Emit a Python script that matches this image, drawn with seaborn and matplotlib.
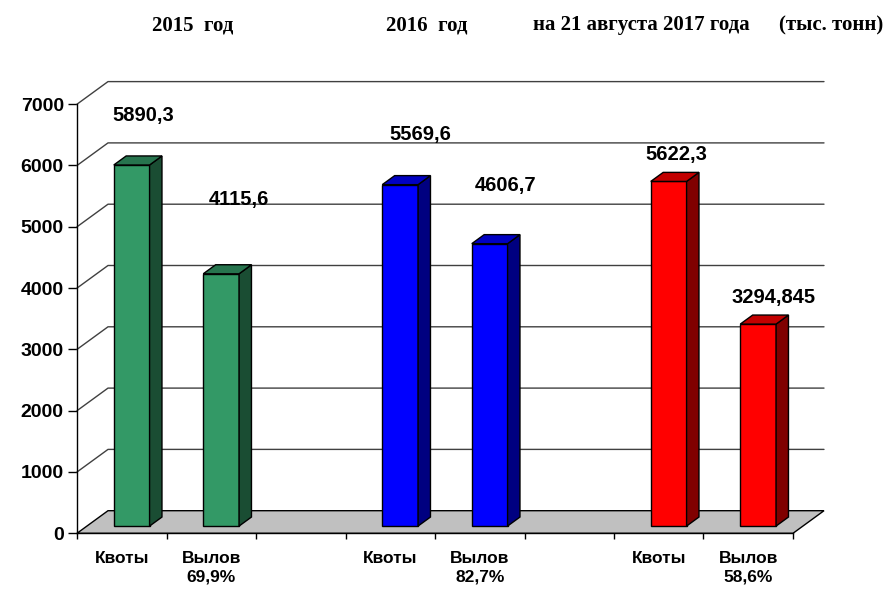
import matplotlib
matplotlib.use('Agg')
import matplotlib.pyplot as plt
import matplotlib.colors as mcolors
from matplotlib.patches import Polygon, Rectangle
import pandas as pd
import seaborn as sns

# Data (thousand tonnes)
years = ['2015', '2016', '2017']
quota = [5890.3, 5569.6, 5622.3]
catch = [4115.6, 4606.7, 3294.845]
catch_share = ['69,9%', '82,7%', '58,6%']
year_colors = ['#339966', '#0000FF', '#FF0000']
headers = ['2015  год', '2016  год', 'на 21 августа 2017 года', '(тыс. тонн)']
y_ticks = [0, 1000, 2000, 3000, 4000, 5000, 6000, 7000]

# Build the slots: Квоты, Вылов, empty gap, ...
rows, order, tick_labels, value_text = [], [], [], []
for i, yr in enumerate(years):
    rows.append({'slot': f'Квоты {yr}', 'value': quota[i], 'year': yr})
    rows.append({'slot': f'Вылов {yr}', 'value': catch[i], 'year': yr})
    order += [f'Квоты {yr}', f'Вылов {yr}']
    tick_labels += ['Квоты', f'Вылов\n{catch_share[i]}']
    value_text += [str(quota[i]).replace('.', ','), str(catch[i]).replace('.', ',')]
    if i < len(years) - 1:
        order.append(f'gap {yr}')
        tick_labels.append('')
df = pd.DataFrame(rows)

sns.set_style('white')
plt.rcParams['font.family'] = ['Liberation Sans', 'DejaVu Sans']
plt.rcParams['text.color'] = 'black'
plt.rcParams['xtick.color'] = 'black'
plt.rcParams['ytick.color'] = 'black'

# pixel geometry of the pseudo-3D frame
PX_CAT = 89.5      # pixels per category slot
PX_UNIT = 0.0613   # pixels per thousand tonnes
DX = 31 / PX_CAT   # depth offset, x (categories)
DY = 22.6 / PX_UNIT  # depth offset, y (value units)
BAR_FRONT = 0.32   # depth at which bar front sits
BAR_DEPTH = 0.40   # depth of a bar
n_slots = len(order)

fig = plt.figure(figsize=(8.87, 5.90), dpi=100)
ax = fig.add_axes([77 / 887, (590 - 533.3) / 590,
                   8.5 * PX_CAT / 887, 7500 * PX_UNIT / 590])
xmin, xmax = -0.5, n_slots - 0.5

# back wall gridlines (with the diagonal on the left wall)
for v in y_ticks[1:]:
    ax.plot([xmin, xmin + DX, xmax + DX], [v, v + DY, v + DY],
            color='#404040', lw=1.0, zorder=1, clip_on=False)

# floor
floor = Polygon([(xmin, 0), (xmax, 0), (xmax + DX, DY), (xmin + DX, DY)],
                closed=True, facecolor='#C0C0C0', edgecolor='black',
                lw=1.0, zorder=2, clip_on=False)
ax.add_patch(floor)

sns.barplot(data=df, x='slot', y='value', hue='year', order=order,
            palette=dict(zip(years, year_colors)), dodge=False, width=0.4,
            saturation=1, legend=False, errorbar=None, edgecolor='black',
            linewidth=1.0, ax=ax, zorder=3)

# value label offsets (pixels, from the top-centre of each front face)
label_shift = [(12, 49), (18, 74), (20, 50), (16, 58), (8, 27), (15, 27)]

bars = sorted([p for p in ax.patches if isinstance(p, Rectangle) and p.get_height() > 0],
              key=lambda p: p.get_x())
for k, p in enumerate(bars):
    x0 = p.get_x() + BAR_FRONT * DX
    y0 = BAR_FRONT * DY
    w, h = p.get_width(), p.get_height()
    p.set_x(x0)
    p.set_y(y0)
    p.set_clip_on(False)
    base = mcolors.to_rgb(p.get_facecolor())
    side_c = tuple(c * 0.5 for c in base)
    top_c = tuple(c * 0.76 for c in base)
    x1, y1 = x0 + w, y0 + h
    ddx, ddy = BAR_DEPTH * DX, BAR_DEPTH * DY
    ax.add_patch(Polygon([(x1, y0), (x1 + ddx, y0 + ddy), (x1 + ddx, y1 + ddy), (x1, y1)],
                         closed=True, facecolor=side_c, edgecolor='black',
                         lw=1.0, zorder=3, clip_on=False))
    ax.add_patch(Polygon([(x0, y1), (x1, y1), (x1 + ddx, y1 + ddy), (x0 + ddx, y1 + ddy)],
                         closed=True, facecolor=top_c, edgecolor='black',
                         lw=1.0, zorder=3, clip_on=False))
    dxp, dyp = label_shift[k]
    ax.annotate(value_text[k], xy=(x0 + w / 2, y1), xytext=(dxp, dyp),
                textcoords='offset pixels', ha='center', va='center',
                fontsize=14.5, fontweight='bold', zorder=5, annotation_clip=False)

ax.set_xlim(xmin, xmax + 0.5)
ax.set_ylim(0, 7500)
ax.set_xlabel('')
ax.set_ylabel('')

# axes styling
for s in ['top', 'right']:
    ax.spines[s].set_visible(False)
ax.spines['left'].set_bounds(0, 7000)
ax.spines['bottom'].set_bounds(xmin, xmax)
for s in ['left', 'bottom']:
    ax.spines[s].set_color('black')
    ax.spines[s].set_linewidth(1.0)
    ax.spines[s].set_zorder(4)

ax.set_yticks(y_ticks)
ax.set_yticklabels([str(v) for v in y_ticks], fontsize=14, fontweight='bold')
ax.tick_params(axis='y', direction='out', length=6.5, width=1, pad=3, left=True)

ax.set_xticks(range(n_slots))
ax.set_xticklabels(tick_labels, fontsize=12.5, fontweight='bold', linespacing=1.25)
ax.set_xticks([i - 0.5 for i in range(n_slots + 1)], minor=True)
ax.tick_params(axis='x', which='major', length=0, pad=13)
ax.tick_params(axis='x', which='minor', direction='out', length=4.5, width=1, bottom=True)

# header line in serif bold
header_x = [193, 427, 641, 831]
for hx, t in zip(header_x, headers):
    fig.text(hx / 887, 1 - 25 / 590, t, ha='center', va='center',
             fontsize=15, fontweight='bold', family='Liberation Serif')

fig.savefig('out.png', dpi=100)
